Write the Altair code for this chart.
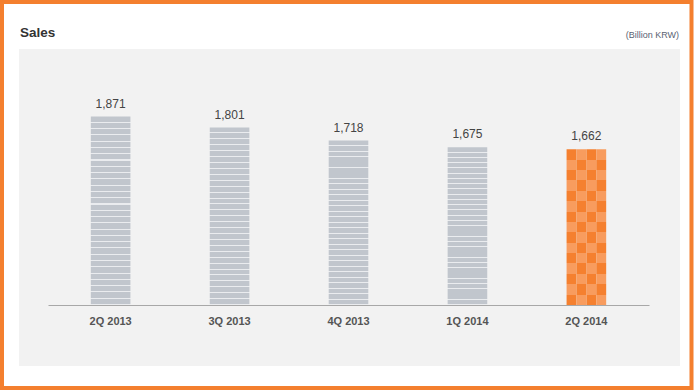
import altair as alt
import pandas as pd

# ---- data ----
quarters = ["2Q 2013", "3Q 2013", "4Q 2013", "1Q 2014", "2Q 2014"]
sales = [1871, 1801, 1718, 1675, 1662]
highlight = [False, False, False, False, True]
label_text = ["1,871", "1,801", "1,718", "1,675", "1,662"]

title_text = "Sales"
unit_text = "(Billion KRW)"

# ---- style ----
FONT = "Liberation Sans"
GRAY = "#c1c6cd"
STRIPE = "#eaecef"
ORANGE_DARK = "#f5802f"
ORANGE_LIGHT = "#f89c5e"
N_STRIPES = 30
N_ROWS = 15
N_COLS = 4
Y_MIN, Y_MAX = 670, 2257

df = pd.DataFrame({"q": quarters, "v": sales, "hl": highlight, "lab": label_text})
gray_df = df[~df["hl"]]
hl_rows = df[df["hl"]]
orange_df = pd.DataFrame(
    [{"q": r.q, "v": r.v, "col": c, "par": c % 2} for r in hl_rows.itertuples() for c in range(N_COLS)]
)


def stripe_gradient():
    stops = []
    w = 0.17 / N_STRIPES
    for k in range(N_STRIPES):
        a = k / N_STRIPES
        b = (k + 1) / N_STRIPES
        stops += [
            {"offset": a, "color": GRAY},
            {"offset": b - w, "color": GRAY},
            {"offset": b - w, "color": STRIPE},
            {"offset": b, "color": STRIPE},
        ]
    return {"gradient": "linear", "x1": 0, "y1": 0, "x2": 0, "y2": 1, "stops": stops}


def checker_gradient(start_dark):
    stops = []
    for r in range(N_ROWS):
        dark = (r % 2 == 0) == start_dark
        c = ORANGE_DARK if dark else ORANGE_LIGHT
        stops += [{"offset": r / N_ROWS, "color": c}, {"offset": (r + 1) / N_ROWS, "color": c}]
    return {"gradient": "linear", "x1": 0, "y1": 0, "x2": 0, "y2": 1, "stops": stops}


# plot area: x 48..649, y 56..305
PL, PT = 48, 56
W, H = 601, 249

x_enc = alt.X(
    "q:N",
    sort=quarters,
    scale=alt.Scale(paddingInner=0.667, paddingOuter=0.36),
    axis=alt.Axis(
        title=None,
        ticks=False,
        labelAngle=0,
        labelFont=FONT,
        labelFontSize=11,
        labelFontWeight="bold",
        labelColor="#555555",
        labelPadding=10,
        domainColor="#a8a8a8",
        domainWidth=1,
        zindex=1,
    ),
)
y_enc = alt.Y("v:Q", scale=alt.Scale(domain=[Y_MIN, Y_MAX], zero=False), axis=None)
y2_enc = alt.datum(Y_MIN)

one = pd.DataFrame({"a": [0]})

border = alt.Chart(one).mark_rect(fill=None, stroke="#f47f2e", strokeWidth=4).encode(
    x=alt.value(2 - PL), x2=alt.value(691.5 - PL), y=alt.value(2 - PT), y2=alt.value(388 - PT)
)
panel = alt.Chart(one).mark_rect(fill="#f2f2f2").encode(
    x=alt.value(19 - PL), x2=alt.value(680 - PL), y=alt.value(49 - PT), y2=alt.value(366 - PT)
)
title_mark = alt.Chart(one).mark_text(
    text=title_text, font=FONT, fontSize=13.5, fontWeight="bold", color="#333333", align="left", baseline="alphabetic"
).encode(x=alt.value(20 - PL), y=alt.value(37 - PT))
unit_mark = alt.Chart(one).mark_text(
    text=unit_text, font=FONT, fontSize=9, color="#5a6272", align="right", baseline="alphabetic"
).encode(x=alt.value(679 - PL), y=alt.value(38 - PT))

gray_bars = alt.Chart(gray_df).mark_bar(fill=stripe_gradient()).encode(x=x_enc, y=y_enc, y2=y2_enc)

off = alt.XOffset("col:N", scale=alt.Scale(paddingInner=0, paddingOuter=0))
orange_even = alt.Chart(orange_df).transform_filter("datum.par == 0").mark_bar(
    fill=checker_gradient(True)
).encode(x=x_enc, y=y_enc, y2=y2_enc, xOffset=off)
orange_odd = alt.Chart(orange_df).transform_filter("datum.par == 1").mark_bar(
    fill=checker_gradient(False)
).encode(x=x_enc, y=y_enc, y2=y2_enc, xOffset=off)

labels = alt.Chart(df).mark_text(
    font=FONT, fontSize=12, color="#444444", baseline="alphabetic", dy=-9
).encode(x=x_enc, y=y_enc, text="lab:N")

chart = (
    alt.layer(border, panel, title_mark, unit_mark, gray_bars, orange_even, orange_odd, labels)
    .properties(
        width=W,
        height=H,
        padding={"left": PL, "top": PT, "right": 694 - PL - W, "bottom": 390 - PT - H},
        autosize=alt.AutoSizeParams(type="none"),
        background="white",
    )
    .configure_view(stroke=None)
)

chart.save("out.html", embed_options={"renderer": "svg", "actions": False})
